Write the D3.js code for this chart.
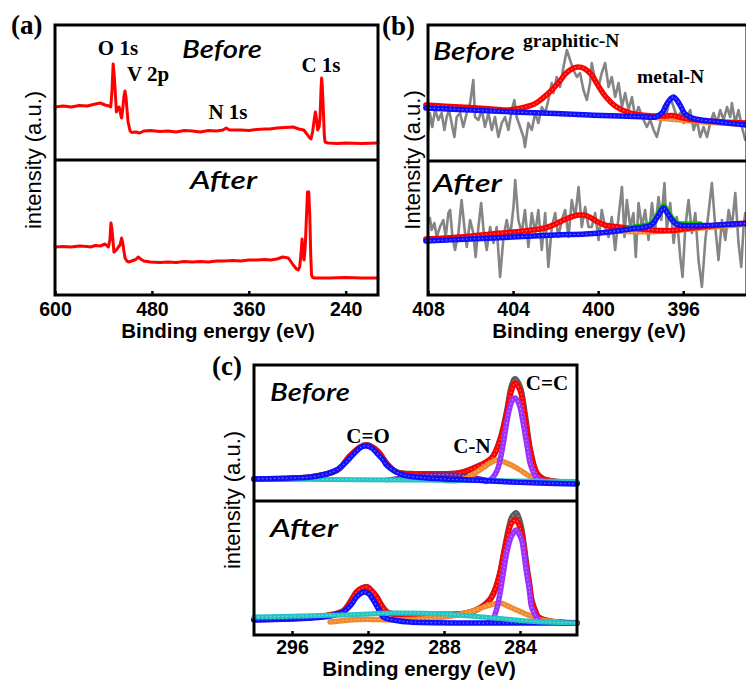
<!DOCTYPE html>
<html>
<head>
<meta charset="utf-8">
<script src="https://cdn.jsdelivr.net/npm/d3@7"></script>
<style>
  body { margin: 0; background: #fff; }
  svg { display: block; }
</style>
</head>
<body>
<svg id="fig" width="746" height="680"></svg>
<script>
// XPS figure: (a) survey, (b) N 1s, (c) C 1s — before / after.
// All curves are [binding energy (eV), intensity (a.u.)].

const ticksA = [600, 480, 360, 240];
const ticksB = [408, 404, 400, 396];
const ticksC = [296, 292, 288, 284];

// ---- (a) survey ----
const surveyBefore = [[600,53],[590,54],[580,53],[570,54.5],[560,54],[550,56],[544,57],[538,55],[533,54],[531,53],
  [529.5,68],[528,96],[526.8,86],[525.5,70],[524,48],[522.5,52],[520.5,53],[518.5,45],[517.5,42],[516,52],[514.5,64],
  [513.3,69],[512,62],[511,52],[509.5,38],[507,29],[505,27.5],[500,28],[495,27],[490,29],[482,29.5],[470,28.5],[460,29],
  [450,28],[440,29.5],[430,29],[420,28],[410,29.5],[400,29],[392,30],[388,32],[384,30],[370,30],[360,29.5],[350,30.5],
  [340,31],[334,31],[325,32],[315,32.5],[305,33],[298,31],[292,30],[288,26],[285,22.5],[283,21],[281,28],[279,40],
  [277.5,48],[276,40],[274.7,30],[273,33],[271.8,42],[270.5,72],[269.8,82],[269,74],[267.7,50],[266.5,25],[265.6,18],
  [262,17],[250,16.5],[240,17],[220,16.5],[200,17]];
const surveyAfter = [[600,48],[590,48.5],[580,48],[570,49],[560,48.5],[556,48],[550,49.5],[544,49],[538,51],[534,48],
  [532,55],[530.7,72],[529.5,66],[528.6,58],[527,43],[524,45],[521.5,48],[519.5,50],[517.5,57],[516,52],[515,46],
  [513.3,37],[511,34],[509,33],[505,34],[500,35.5],[497,38],[494,36],[490,34],[482,33],[470,32.5],[460,33],[450,32.5],
  [440,33.5],[430,33],[420,33.5],[410,33],[400,34],[390,34],[380,34.5],[370,34],[360,35],[350,35],[340,35.5],[333,35],
  [325,36],[318,38],[311,37],[305,30],[301,26],[298.7,25],[297,28],[295.5,40],[294,56],[292.5,38],[291.5,35],[290,50],
  [288.5,80],[287.3,103],[285.8,103],[284.5,80],[283.3,40],[282.3,20],[281,17.5],[278,17],[260,17],[240,17.5],
  [220,17],[200,17]];

// ---- (b) N 1s ----
const n1sRawBefore = [[407.98,31],[407.91,48],[407.8,34],[407.67,51],[407.51,41],[407.36,48],[407.23,31],[407.12,44],
  [407.01,51],[406.89,38],[406.76,24],[406.65,44],[406.49,48],[406.34,34],[406.18,48],[406.02,58],[405.87,81],[405.79,44],
  [405.63,41],[405.47,51],[405.32,34],[405.16,48],[405.0,31],[404.85,44],[404.69,24],[404.53,38],[404.38,44],[404.22,31],
  [404.06,51],[403.94,61],[403.83,44],[403.67,34],[403.51,24],[403.44,14],[403.28,38],[403.12,31],[402.96,48],[402.81,38],
  [402.65,54],[402.49,48],[402.34,61],[402.18,78],[402.1,68],[401.95,84],[401.79,74],[401.63,94],[401.47,111],[401.32,101],
  [401.16,91],[401.0,84],[400.85,88],[400.69,71],[400.53,61],[400.38,78],[400.3,98],[400.14,81],[399.98,74],[399.83,88],
  [399.67,98],[399.51,74],[399.36,84],[399.2,64],[399.04,78],[398.88,54],[398.73,68],[398.57,51],[398.41,64],[398.26,44],
  [398.1,54],[397.86,41],[397.71,34],[397.55,41],[397.39,31],[397.24,24],[397.08,38],[396.92,54],[396.77,48],[396.61,64],
  [396.45,54],[396.3,44],[396.14,48],[395.98,38],[395.83,44],[395.67,51],[395.51,31],[395.36,41],[395.2,24],[395.04,34],
  [394.88,24],[394.73,38],[394.57,48],[394.41,38],[394.26,51],[394.1,41],[393.94,54],[393.79,44],[393.71,58],[393.55,38],
  [393.4,51],[393.24,34],[393.08,21]];
const n1sRawAfter = [[407.98,72],[407.91,77],[407.83,65],[407.7,72],[407.59,58],[407.44,68],[407.28,75],[407.17,58],
  [407.04,82],[406.96,85],[406.85,58],[406.73,45],[406.57,62],[406.42,95],[406.29,68],[406.18,48],[406.02,75],[405.87,62],
  [405.76,38],[405.63,68],[405.5,92],[405.39,65],[405.24,45],[405.08,68],[404.92,52],[404.77,68],[404.61,18],[404.45,58],
  [404.3,75],[404.14,58],[403.98,88],[403.9,115],[403.75,75],[403.59,62],[403.44,85],[403.28,48],[403.12,82],[402.96,62],
  [402.81,85],[402.65,45],[402.49,82],[402.34,28],[402.18,68],[402.02,82],[401.87,58],[401.71,75],[401.55,85],[401.39,58],
  [401.24,95],[401.08,78],[400.92,108],[400.77,68],[400.61,88],[400.45,68],[400.3,68],[400.14,82],[399.98,55],[399.83,85],
  [399.67,68],[399.51,58],[399.36,78],[399.2,45],[399.04,78],[398.88,108],[398.76,58],[398.65,95],[398.49,68],[398.34,82],
  [398.23,38],[398.1,92],[397.94,68],[397.79,85],[397.63,55],[397.47,92],[397.32,65],[397.16,98],[397.03,75],[396.88,112],
  [396.77,65],[396.61,92],[396.45,52],[396.3,78],[396.14,38],[396.03,18],[395.9,68],[395.75,95],[395.59,62],[395.43,82],
  [395.28,35],[395.12,8],[394.96,55],[394.81,82],[394.65,112],[394.49,68],[394.34,35],[394.18,75],[394.02,55],[393.86,85],
  [393.71,68],[393.55,102],[393.4,52],[393.27,28],[393.16,68],[393.08,82]];
const n1sRedBefore = [[408.1,56],[406.5,54],[405,52],[404.2,51],[403.6,53],[403,57],[402.6,63],[402.18,71],[401.8,80],
  [401.5,88],[401.2,92.5],[400.95,94],[400.65,92.5],[400.3,86],[400.1,79],[399.9,72],[399.67,65],[399.2,55],[398.57,48.5],
  [398,46],[397.4,45],[396.9,45],[396.5,45.5],[396,43],[395.4,41],[394.5,39.5],[393,38]];
const n1sOrangeBefore = [[398.5,45.5],[397,42],[395.5,39],[394,37],[393,35.5]];
const n1sBlueBefore = [[408.1,53],[406,51],[404,49],[402,47.5],[400.4,46],[399,45],[398,44.3],[397.3,44],[397.0,48],
  [396.77,57],[396.6,62],[396.45,64],[396.3,61],[396.1,54],[395.95,48],[395.7,44],[395.3,41.5],[394.5,39.5],[393.7,37.5],
  [393,36]];
const n1sRedAfter = [[408.1,56],[406.5,58],[405,61],[403.5,64],[402.5,67],[402,71],[401.4,77],[400.9,80],[400.5,79],
  [400.1,74],[399.7,70],[399,68],[398,66],[397,64.5],[396.5,64.5],[396,66],[395,68.5],[394,70.5],[393,72]];
const n1sOrangeAfter = [[399,63],[397.5,62.5],[396,64.5],[394.5,67.5],[393,70]];
const n1sGreenAfter = [[398.6,67],[397.8,69.5],[397.5,71.5],[397.3,76.5],[397.1,84],[396.92,89],[396.75,84],
  [396.53,77],[396.3,72],[396,71],[395.2,71]];
const n1sBlueAfter = [[408.1,54],[406,56],[404,58],[402,60],[400.6,61],[399.5,63],[398.5,66],[397.8,68],[397.5,70],
  [397.3,75],[397.1,82],[396.92,87],[396.75,82],[396.53,75],[396.3,70.5],[396,69.5],[395,69.5],[394,70.5],[393,71.5]];

// ---- (c) C 1s ----
const c1sRawBefore = [[298,22],[295,24],[293.6,31],[293,44],[292.4,54],[292.07,56],[291.5,50],[291,37],[290.5,29],
  [289.5,27],[288.9,27],[287.2,28],[286.3,34],[285.49,43],[285.05,61],[284.7,89],[284.44,115],[284.26,122],[284.0,114],
  [283.74,87],[283.47,52],[283.12,28],[282.77,22],[281,18]];
const c1sRedBefore = [[298,22],[295,24],[293.6,31],[293,44],[292.4,54],[292.07,56],[291.5,50],[291,37],[290.5,29],
  [289.5,27],[288.9,27],[287.2,28],[286.3,34],[285.49,43],[285.05,61],[284.7,88],[284.44,111],[284.26,118],[284.0,111],
  [283.74,84],[283.47,51],[283.12,28],[282.77,22],[281,18]];
const c1sVioletBefore = [[291,21],[290,24],[289,26],[288,26.5],[287,25.5],[286,22],[285.4,20]];
const c1sOrangeBefore = [[288,20.5],[286.98,21.5],[286.28,29],[285.8,35],[285.58,38],[285.23,41],[284.7,38],
  [284.0,31],[283.6,26],[283.3,23],[282.77,19.5],[282,19]];
const c1sPurpleBefore = [[285.8,19.5],[285.58,21],[285.3,27],[285.14,34],[284.95,50],[284.79,68],[284.65,84],
  [284.53,94],[284.4,101],[284.26,103],[284.12,100],[284.0,94],[283.87,82],[283.74,68],[283.6,52],[283.47,38],
  [283.3,29],[283.12,23],[282.8,19.5]];
const c1sCyanBefore = [[298,22],[294,21.5],[290,21],[287,20.5],[284,20],[281,19.5]];
const c1sBlueBefore = [[298,22],[296,23],[295,24],[294.2,27],[293.65,31],[293.2,38],[292.95,43],[292.6,50],
  [292.3,54.5],[292.07,55],[291.8,53],[291.54,48],[291.2,41],[291.02,36],[290.6,30],[290.14,26],[289.2,23.5],[288,22],
  [286,20.5],[284.5,19],[283,18],[281,17]];

const c1sRawAfter = [[298,15.5],[295,17.5],[294,20],[293.3,24],[292.9,34],[292.6,43],[292.3,47],[292.05,48],
  [291.8,44],[291.54,38],[291.3,30],[291.0,23],[290.5,20.5],[289.8,20],[288,20.5],[287.1,21],[286.3,25],[285.6,35],
  [285.3,46],[285.05,62],[284.85,82],[284.7,97],[284.55,110],[284.44,117],[284.21,122],[284.05,116],[283.91,105],
  [283.78,88],[283.65,69],[283.5,50],[283.39,35],[283.2,24],[283.04,18],[282.5,14],[281,12]];
const c1sRedAfter = [[298,15.5],[295,17.5],[294,20],[293.3,24],[292.9,34],[292.6,43],[292.3,47],[292.05,48],
  [291.8,44],[291.54,38],[291.3,30],[291.0,23],[290.5,20.5],[289.8,20],[288,20.5],[287.1,21],[286.3,25],[285.6,35],
  [285.3,46],[285.05,62],[284.85,82],[284.7,95],[284.55,107],[284.44,112],[284.21,115],[284.05,110],[283.91,102],
  [283.78,86],[283.65,68],[283.5,50],[283.39,35],[283.2,24],[283.04,18],[282.5,14],[281,12]];
const c1sOrangeAfter = [[294,13],[292.5,15.5],[291.5,15.5],[290.5,15],[288,18],[286.63,23],[285.9,28],[285.58,30],
  [285.05,32],[284.53,28],[283.82,22],[283.3,18],[282.95,15],[282,13]];
const c1sPurpleAfter = [[285.6,14],[285.4,17],[285.2,28],[285.05,42],[284.88,62],[284.7,82],[284.53,95],[284.44,99],
  [284.21,105],[284.05,101],[283.91,95],[283.78,80],[283.65,62],[283.5,44],[283.39,28],[283.2,20],[283.04,15],[282.8,13]];
const c1sBlueAfter = [[298,15],[295,17],[294,19],[293.3,23],[292.9,30],[292.6,38],[292.35,42],[292.16,43],
  [291.95,41],[291.72,35],[291.45,26],[291.19,18],[290.5,14.5],[289.8,13],[287,12],[284,12],[281,12]];
const c1sCyanAfter = [[298,18],[295.5,19],[293.3,20],[290.67,22],[288,21],[285.4,17],[282.77,13],[281,12]];

// ---- styles ----
const RED = "#ff0000", BLUE = "#1010ff", GRAY = "#858585", ORANGE = "#f08a2c",
      PURPLE = "#9b30ff", CYAN = "#22c4c4", GREEN = "#00c000", VIOLET = "#6a2a9a", DARK = "#5a5a5a";
const SERIF = "'Liberation Serif','Times New Roman',serif";
const SANS = "'Liberation Sans',Arial,sans-serif";
const HAND = "'Comic Sans MS',Lato,'Open Sans',sans-serif";

const raw = (data, color, w) => ({ data, color, w, smooth: false, beads: false });
const fit = (data, color, w) => ({ data, color, w, smooth: true, beads: true });

const panels = [
  {
    tag: "(a)", tagX: 11, tagY: 34,
    left: 55, right: 378, top: 25, mid: 160, bottom: 295,
    domain: [600, 200], ticks: ticksA, titleX: 218, tickPad: 7, titleDy: 43,
    ytitle: "intensity (a.u.)", ytitleX: 41,
    halves: [
      { series: [raw(surveyBefore, RED, 3)] },
      { series: [raw(surveyAfter, RED, 3)] },
    ],
    notes: [
      { t: "O 1s", x: 118, y: 55, font: SERIF, size: 21, anchor: "middle", bold: true },
      { t: "V 2p", x: 148, y: 81, font: SERIF, size: 21, anchor: "middle", bold: true },
      { t: "N 1s", x: 228, y: 119, font: SERIF, size: 21, anchor: "middle", bold: true },
      { t: "C 1s", x: 321, y: 72, font: SERIF, size: 21, anchor: "middle", bold: true },
      { t: "Before", x: 182, y: 58, hand: true, len: 80 },
      { t: "After", x: 190, y: 189, hand: true, len: 67 },
    ],
  },
  {
    tag: "(b)", tagX: 382, tagY: 35,
    left: 428, right: 747, top: 25, mid: 161, bottom: 295,
    domain: [408, 393], ticks: ticksB, titleX: 589, tickPad: 7, titleDy: 43,
    ytitle: "Intensity (a.u.)", ytitleX: 420,
    halves: [
      { series: [raw(n1sRawBefore, GRAY, 2.6), fit(n1sOrangeBefore, ORANGE, 4), fit(n1sRedBefore, RED, 5.5),
                 fit(n1sBlueBefore, BLUE, 5.5)] },
      { series: [raw(n1sRawAfter, GRAY, 2.6), fit(n1sOrangeAfter, ORANGE, 4), fit(n1sRedAfter, RED, 5.5),
                 { data: n1sGreenAfter, color: GREEN, w: 5.5, smooth: true, beads: false },
                 fit(n1sBlueAfter, BLUE, 5.5)] },
    ],
    notes: [
      { t: "Before", x: 433, y: 60, hand: true, len: 82 },
      { t: "graphitic-N", x: 523, y: 47, font: SERIF, size: 19.5, anchor: "start", bold: true },
      { t: "metal-N", x: 637, y: 83, font: SERIF, size: 19.5, anchor: "start", bold: true },
      { t: "After", x: 433, y: 192, hand: true, len: 69 },
    ],
  },
  {
    tag: "(c)", tagX: 212, tagY: 375,
    left: 254, right: 577, top: 365, mid: 501, bottom: 635,
    domain: [298, 281], ticks: ticksC, titleX: 419, tickPad: 5, titleDy: 41,
    ytitle: "intensity (a.u.)", ytitleX: 240,
    halves: [
      { series: [fit(c1sRawBefore, DARK, 6), fit(c1sRedBefore, RED, 5.5), fit(c1sVioletBefore, VIOLET, 4.5),
                 fit(c1sOrangeBefore, ORANGE, 5.5), fit(c1sPurpleBefore, PURPLE, 5.5), fit(c1sCyanBefore, CYAN, 5),
                 fit(c1sBlueBefore, BLUE, 5.5)] },
      { series: [fit(c1sRawAfter, DARK, 6), fit(c1sRedAfter, RED, 5.5), fit(c1sOrangeAfter, ORANGE, 5.5),
                 fit(c1sPurpleAfter, PURPLE, 5.5), fit(c1sBlueAfter, BLUE, 5.5), fit(c1sCyanAfter, CYAN, 5)] },
    ],
    notes: [
      { t: "Before", x: 270, y: 401, hand: true, len: 80 },
      { t: "After", x: 270, y: 537, hand: true, len: 68 },
      { t: "C=O", x: 368, y: 443, font: SERIF, size: 21, anchor: "middle", bold: true },
      { t: "C-N", x: 472, y: 453, font: SERIF, size: 21, anchor: "middle", bold: true },
      { t: "C=C", x: 547, y: 390, font: SERIF, size: 21, anchor: "middle", bold: true },
    ],
  },
];

const svg = d3.select("#fig");

function drawPanel(p) {
  const g = svg.append("g");
  const x = d3.scaleLinear().domain(p.domain).range([p.left, p.right]);
  const bands = [[p.top, p.mid], [p.mid, p.bottom]];

  p.halves.forEach((h, i) => {
    const [t, b] = bands[i];
    const y = d3.scaleLinear().domain([0, b - t]).range([b, t]);
    h.series.forEach((s) => {
      const line = d3.line().x((d) => x(d[0])).y((d) => y(d[1]))
        .curve(s.smooth ? d3.curveCatmullRom.alpha(0.5) : d3.curveLinear);
      g.append("path").attr("d", line(s.data))
        .attr("fill", "none").attr("stroke", s.color).attr("stroke-width", s.w)
        .attr("stroke-linejoin", "round").attr("stroke-linecap", "round");
      if (s.beads) {
        // hint of the open-circle markers the fits are drawn with
        g.append("path").attr("d", line(s.data))
          .attr("fill", "none").attr("stroke", "rgba(255,255,255,0.45)").attr("stroke-width", 1.1)
          .attr("stroke-dasharray", "1.4 2.6");
      }
    });
  });

  // frame + divider
  g.append("rect").attr("x", p.left).attr("y", p.top)
    .attr("width", p.right - p.left).attr("height", p.bottom - p.top)
    .attr("fill", "none").attr("stroke", "#000").attr("stroke-width", 3);
  g.append("line").attr("x1", p.left).attr("x2", p.right).attr("y1", p.mid).attr("y2", p.mid)
    .attr("stroke", "#000").attr("stroke-width", 3);

  const ax = g.append("g").attr("transform", `translate(0,${p.bottom})`)
    .call(d3.axisBottom(x).tickValues(p.ticks).tickSizeInner(-4).tickSizeOuter(0).tickPadding(p.tickPad));
  ax.select(".domain").remove();
  ax.selectAll(".tick line").attr("stroke", "#000").attr("stroke-width", 2.5);
  ax.selectAll(".tick text").attr("font-family", SANS).attr("font-weight", "bold")
    .attr("font-size", 19.5).attr("fill", "#000");

  g.append("text").attr("x", p.titleX).attr("y", p.bottom + p.titleDy)
    .attr("text-anchor", "middle").attr("font-family", SANS).attr("font-weight", "bold")
    .attr("font-size", 20.5).text("Binding energy (eV)");

  g.append("text")
    .attr("transform", `translate(${p.ytitleX},${(p.top + p.bottom) / 2}) rotate(-90)`)
    .attr("text-anchor", "middle").attr("font-family", SANS).attr("font-size", 22)
    .text(p.ytitle);

  g.append("text").attr("x", p.tagX).attr("y", p.tagY)
    .attr("font-family", SERIF).attr("font-weight", "bold").attr("font-size", 27).text(p.tag);

  p.notes.forEach((n) => {
    const t = g.append("text").attr("x", n.x).attr("y", n.y).text(n.t);
    if (n.hand) {
      t.attr("font-family", HAND).attr("font-style", "italic").attr("font-size", 25)
        .attr("font-weight", 600)
        .attr("textLength", n.len).attr("lengthAdjust", "spacingAndGlyphs");
    } else {
      t.attr("font-family", n.font).attr("font-size", n.size)
        .attr("font-weight", n.bold ? "bold" : "normal").attr("text-anchor", n.anchor);
    }
  });
}

panels.forEach(drawPanel);
</script>
</body>
</html>
